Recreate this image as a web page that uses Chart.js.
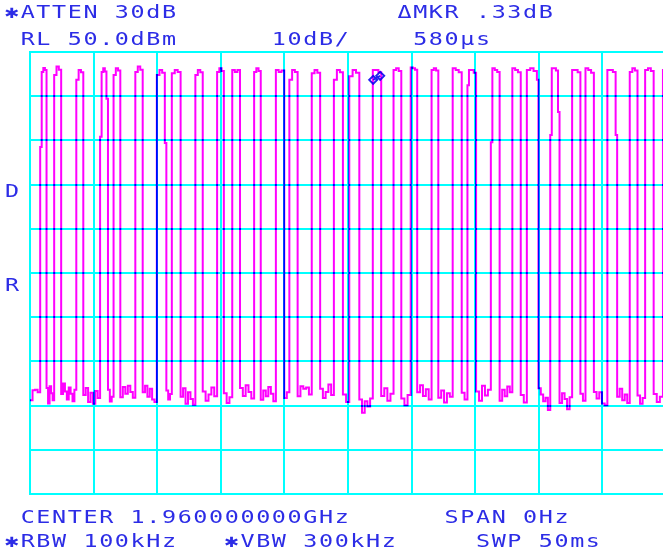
<!DOCTYPE html>
<html>
<head>
<meta charset="utf-8">
<script src="https://cdn.jsdelivr.net/npm/chart.js@4.4.1/dist/chart.umd.min.js"></script>
<style>
    html, body { margin: 0; padding: 0; background: #fff; overflow: hidden; }
    canvas { display: block; }
</style>
</head>
<body>
<canvas id="sweep" width="672" height="554"></canvas>
<script>
// Zero-span sweep: 50 ms across 10 divisions, RL 50 dBm, 10 dB/div
const sweepTimeMs = 50;
const refLevelDbm = 50;
const dbPerDiv = 10;

// burst edges (ms)
const burstStart = [0.80, 1.90, 3.64, 5.51, 6.57, 8.28, 9.97, 11.15, 13.00, 14.71, 15.90, 17.62, 19.33, 20.39, 22.15, 23.89,
    25.10, 26.95, 28.58, 29.93, 31.57, 33.23, 34.39, 36.23, 37.92, 39.06, 40.90, 42.62, 43.67, 45.39, 47.15, 48.36, 49.76];
const burstEnd = [1.30, 2.45, 4.19, 6.01, 7.10, 8.86, 10.60, 11.84, 13.58, 15.24, 16.51, 18.14, 19.99, 21.04, 22.81, 24.60,
    25.89, 27.61, 29.19, 30.44, 32.10, 33.94, 35.07, 36.92, 38.58, 39.85, 41.51, 43.27, 44.33, 46.04, 47.76, 49.03, 50.40];

// burst top, three parts each (dBm)
const burstTop = [
    [45.5, 46.4, 45.9], [44.8, 46.7, 46.0], [43.7, 45.9, 45.4], [45.5, 46.3, 45.6], [44.8, 46.3, 45.8],
    [45.5, 46.7, 46.0], [44.8, 45.9, 45.3], [45.2, 45.9, 45.5], [44.8, 45.9, 45.4], [45.5, 46.3, 45.7],
    [45.9, 45.5, 45.9], [45.5, 46.3, 45.7], [45.9, 45.5, 45.8], [43.7, 45.9, 45.5], [45.2, 45.9, 45.3],
    [43.7, 45.9, 45.4], [44.5, 45.9, 45.3], [45.9, 45.9, 45.4], [45.9, 46.3, 45.7], [46.5, 46.3, 46.0],
    [45.9, 46.3, 45.8], [46.3, 45.9, 45.4], [45.9, 45.9, 45.3], [46.3, 45.9, 45.5], [46.3, 45.9, 45.4],
    [45.9, 46.3, 45.7], [46.3, 46.3, 45.8], [45.9, 45.9, 45.4], [46.3, 45.9, 45.3], [45.9, 45.9, 45.5],
    [45.5, 46.3, 45.8], [45.9, 46.3, 45.7], [45.9, 45.9, 45.9]
];

// ramp shoulders on some edges (dBm), null where the edge is clean
const riseStep = [28.5, null, null, 30.8, null, null, null, null, null, null, null, null, null, null, null, null,
    null, null, null, null, null, null, 42.5, 29.6, null, null, 31.2, null, null, null, null, null, null];
const fallStep = [null, null, null, 39.4, null, null, 29.4, null, null, null, null, null, null, null, null, null,
    null, null, null, null, null, null, null, null, null, 43.7, 36.4, null, null, 31.2, null, null, null];

// noise floor read in each gap before a burst (dBm)
const floorGaps = [
    [-28.8, -26.5, -26.4, -27.0],
    [-26.0, -29.5, -25.6, -27.2, -28.8],
    [-27.4, -25.0, -26.8, -28.6, -25.9, -27.3, -29.0, -26.4],
    [-27.6, -26.0, -29.2, -27.1, -29.6, -26.7, -28.3],
    [-26.4, -29.1, -28.0],
    [-28.1, -25.8, -27.3, -25.5, -26.9, -28.2],
    [-27.0, -25.5, -28.0, -26.2, -28.6, -29.2],
    [-26.6, -28.6, -27.4],
    [-28.0, -26.1, -29.6, -27.0, -28.5, -29.8],
    [-26.8, -28.9, -27.5, -25.9, -27.9],
    [-27.2, -29.4, -28.1],
    [-26.0, -27.8, -25.4, -26.9, -28.4],
    [-28.7, -26.6, -27.9, -25.8, -27.3, -29.0],
    [-28.3, -27.0],
    [-27.9, -25.6, -26.2, -25.9, -27.5],
    [-26.2, -28.3, -26.9, -25.2, -27.6],
    [-27.5, -29.2],
    [-28.6, -31.6, -29.0, -30.2, -28.4],
    [-27.8, -26.1, -28.9, -27.3],
    [-28.4, -29.9, -27.6],
    [-27.0, -25.4, -27.8, -26.3, -28.6],
    [-28.2, -26.6, -29.3, -27.2, -28.0],
    [-27.1, -28.6],
    [-26.8, -28.9, -25.5, -27.7, -26.4],
    [-28.9, -26.4, -27.9, -25.7, -27.0],
    [-27.6, -29.3],
    [-26.1, -27.5, -29.0, -28.2, -31.0],
    [-29.4, -27.2, -28.5, -30.8, -28.1],
    [-27.3, -28.9],
    [-26.9, -28.4, -27.0, -29.5, -29.9],
    [-28.0, -26.2, -28.8, -27.5, -29.4],
    [-27.7, -29.6, -28.3],
    [-27.4, -29.2, -28.0]
];

// delta marker pair
const markerTime = [26.98, 27.53];
const markerLevel = [43.7, 44.6];

const headerLines = ['✱ATTEN 30dB              ΔMKR .33dB', ' RL 50.0dBm      10dB/    580µs'];
const footerLines = [' CENTER 1.960000000GHz      SPAN 0Hz', '✱RBW 100kHz   ✱VBW 300kHz     SWP 50ms'];
const sideLetters = ['D', 'R'];

function buildTrace() {
    const pts = [];
    burstStart.forEach((start, i) => {
        let gs = i === 0 ? 0 : burstEnd[i - 1] + (fallStep[i - 1] !== null ? 0.12 : 0);
        const gap = floorGaps[i];
        gap.forEach((v, j) => pts.push({ x: gs + j * (start - gs) / gap.length, y: v }));

        const end = burstEnd[i];
        let t0 = start;
        if (riseStep[i] !== null) {
            pts.push({ x: start, y: riseStep[i] });
            t0 = start + 0.12;
        }
        const w = (end - t0) / 3;
        pts.push({ x: t0, y: burstTop[i][0] });
        pts.push({ x: t0 + w, y: burstTop[i][1] });
        pts.push({ x: t0 + 2 * w, y: burstTop[i][2] });
        if (fallStep[i] !== null) pts.push({ x: end, y: fallStep[i] });
        else if (i === burstStart.length - 1) pts.push({ x: end, y: -28.0 });
    });
    return pts;
}

const blendTrace = {
    id: 'blendTrace',
    beforeDatasetDraw(chart, args) {
        if (args.index !== 0) return;
        chart.ctx.save();
        chart.ctx.globalCompositeOperation = 'multiply';
    },
    afterDatasetDraw(chart, args) {
        if (args.index !== 0) return;
        chart.ctx.restore();
    }
};

const screenText = {
    id: 'screenText',
    afterDraw(chart) {
        const ctx = chart.ctx;
        const cell = 15.7;
        const drawRow = (str, baseline) => {
            [...str].forEach((ch, i) => {
                if (ch === ' ') return;
                ctx.save();
                ctx.translate(12 + i * cell, baseline);
                ctx.scale(1.3, 1);
                ctx.fillText(ch, 0, 0);
                ctx.restore();
            });
        };
        ctx.save();
        ctx.fillStyle = '#2c2ce6';
        ctx.font = '18px "DejaVu Sans Mono", monospace';
        ctx.textAlign = 'center';
        ctx.textBaseline = 'alphabetic';
        drawRow(headerLines[0], 18);
        drawRow(headerLines[1], 45);
        drawRow(footerLines[0], 523);
        drawRow(footerLines[1], 547);
        drawRow(sideLetters[0], 197);
        drawRow(sideLetters[1], 291);
        ctx.restore();
    }
};

new Chart(document.getElementById('sweep'), {
    type: 'line',
    data: {
        datasets: [{
            data: buildTrace(),
            borderColor: '#ff00ff',
            borderWidth: 2,
            pointRadius: 0,
            stepped: 'before',
            clip: 0
        }, {
            data: markerTime.map((t, i) => ({ x: t, y: markerLevel[i] })),
            borderColor: '#2020f0',
            backgroundColor: 'rgba(0,0,0,0)',
            borderWidth: 2,
            pointStyle: 'rectRot',
            pointRadius: 4,
            pointBorderWidth: 2,
            showLine: true
        }]
    },
    options: {
        responsive: false,
        animation: false,
        events: [],
        layout: { padding: { left: 30, top: 52, right: 0, bottom: 60 } },
        plugins: { legend: { display: false }, tooltip: { enabled: false } },
        scales: {
            x: {
                type: 'linear',
                min: 0,
                max: sweepTimeMs,
                ticks: { display: false, stepSize: sweepTimeMs / 10 },
                grid: { color: '#00ffff', lineWidth: 2, drawTicks: false },
                border: { display: true, color: '#00ffff', width: 2 }
            },
            y: {
                min: refLevelDbm - 10 * dbPerDiv,
                max: refLevelDbm,
                ticks: { display: false, stepSize: dbPerDiv },
                grid: { color: '#00ffff', lineWidth: 2, drawTicks: false },
                border: { display: true, color: '#00ffff', width: 2 }
            }
        }
    },
    plugins: [blendTrace, screenText]
});
</script>
</body>
</html>
